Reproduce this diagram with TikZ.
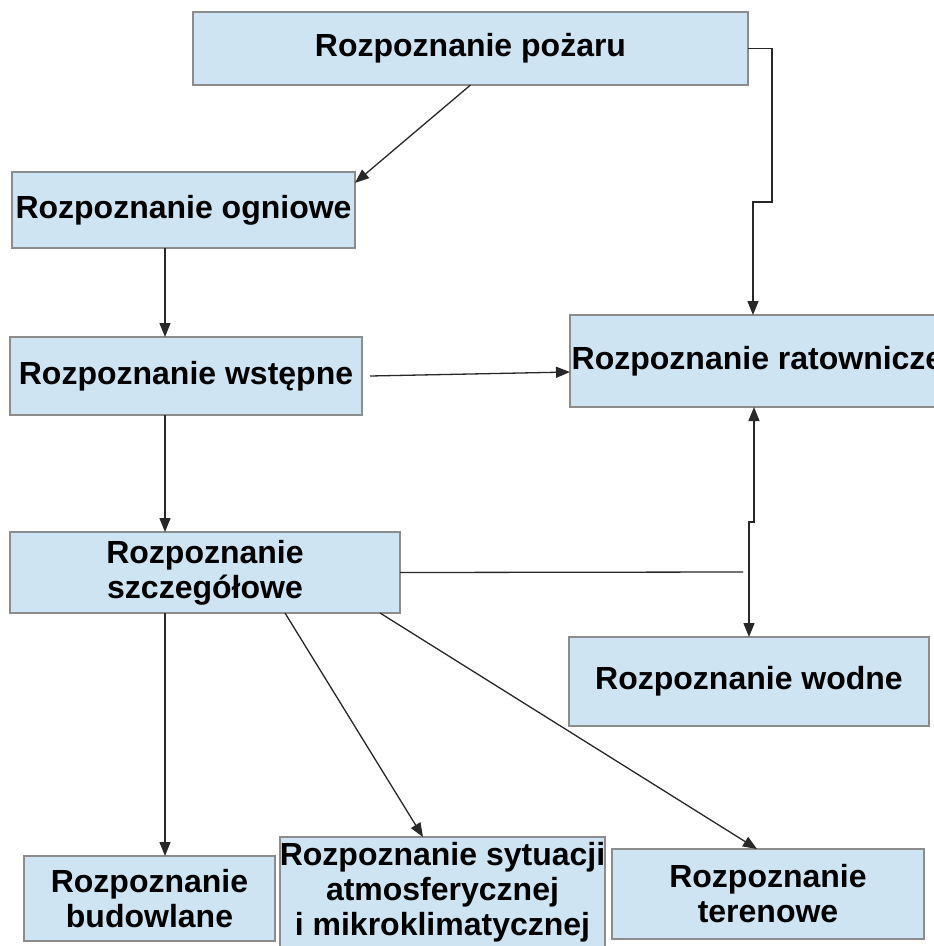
\documentclass[tikz,border=0pt]{standalone}
\usepackage{fontspec}
\setmainfont{Liberation Sans}
\usetikzlibrary{arrows.meta}
\definecolor{boxfill}{RGB}{207,228,242}
\definecolor{boxline}{RGB}{140,140,140}
\definecolor{conn}{RGB}{40,40,40}
\begin{document}
\begin{tikzpicture}[x=1pt,y=-1pt,
  box/.style={draw=boxline,fill=boxfill,line width=1.5pt,inner sep=0pt,outer sep=0pt,
    align=center,font=\fontsize{32}{35}\selectfont\bfseries},
  conline/.style={draw=conn,line width=1.3pt},
  arr/.style={conline,-{Triangle[length=14pt,width=11pt]}},
  arrboth/.style={conline,{Triangle[length=14pt,width=11pt]}-{Triangle[length=14pt,width=11pt]}}]
\useasboundingbox (0,0) rectangle (934,946);
\begin{scope}
\clip (0,0) rectangle (934,946);
\node[box,minimum width=555pt,minimum height=73pt] (b1) at (470.5,48.5) {Rozpoznanie pożaru};
\node[box,minimum width=343pt,minimum height=76pt] (b2) at (183.5,210) {Rozpoznanie ogniowe};
\node[box,minimum width=352pt,minimum height=78pt] (b3) at (186,376) {Rozpoznanie wstępne};
\node[box,minimum width=375pt,minimum height=92pt] (b4) at (757.5,361) {Rozpoznanie ratownicze};
\node[box,minimum width=390pt,minimum height=81pt] (b5) at (205,572.5) {Rozpoznanie\\szczegółowe};
\node[box,minimum width=360pt,minimum height=89pt] (b6) at (749,681.5) {Rozpoznanie wodne};
\node[box,minimum width=251pt,minimum height=85pt] (b7) at (149.5,898.5) {Rozpoznanie\\budowlane};
\node[box,minimum width=323pt,minimum height=111pt] (b8) at (442.5,892.5) {Rozpoznanie sytuacji\\atmosferycznej\\i mikroklimatycznej};
\node[box,minimum width=312pt,minimum height=90pt] (b9) at (768,894) {Rozpoznanie\\terenowe};
\end{scope}
\coordinate (j) at (743,572);
\draw[arr] (b1.south) -- (b2.9);
\draw[arr] (b1.east) -- ++(24,0) -- ++(0,153.5) -| ([xshift=-4.5pt]b4.north);
\draw[arr] ([xshift=-18.5pt]b2.south) -- ([xshift=-21pt]b3.north);
\draw[arr] ([xshift=8pt]b3.east) -- ([yshift=-11pt]b4.west);
\draw[arr] ([xshift=-21pt]b3.south) -- ([xshift=-40pt]b5.north);
\draw[arrboth] ([xshift=-3.5pt]b4.south) -- ++(0,115) -| (b6.north);
\draw[conline] (b5.east) -- (j);
\draw[arr] ([xshift=-40pt]b5.south) -- ([xshift=15.5pt]b7.north);
\draw[arr] ([xshift=80pt]b5.south) -- ([xshift=-19.5pt]b8.north);
\draw[arr] ([xshift=175pt]b5.south) -- ([xshift=-11pt]b9.north);
\end{tikzpicture}
\end{document}
